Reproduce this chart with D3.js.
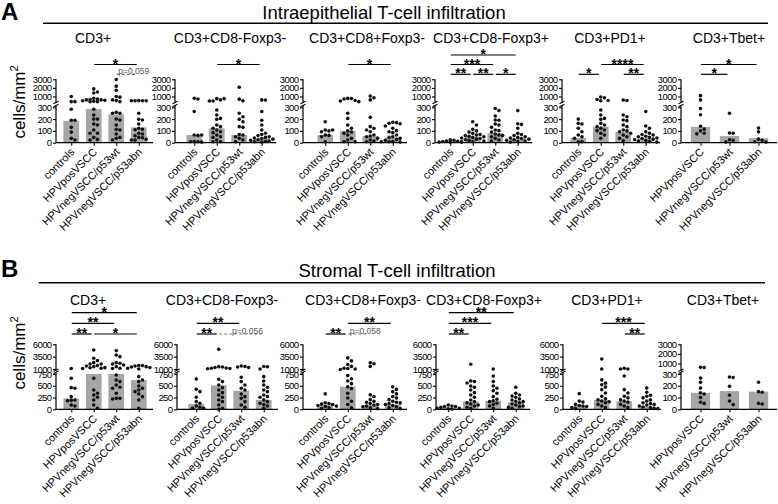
<!DOCTYPE html>
<html><head><meta charset="utf-8">
<script src="https://cdn.jsdelivr.net/npm/d3@7"></script>
<style>body{margin:0;background:#fff}svg text{font-family:"Liberation Sans",Arial,Helvetica,sans-serif}</style>
</head><body><svg id="c" width="778" height="504"></svg>
<script>
const groups4 = ["controls","HPVposVSCC","HPVnegVSCC/p53wt","HPVnegVSCC/p53abn"];
const groups3 = ["HPVposVSCC","HPVnegVSCC/p53wt","HPVnegVSCC/p53abn"];
const markers = ["CD3+","CD3+CD8-Foxp3-","CD3+CD8+Foxp3-","CD3+CD8-Foxp3+","CD3+PD1+","CD3+Tbet+"];
const panelTitles = ["Intraepithelial T-cell infiltration","Stromal T-cell infiltration"];
const panelLetters = ["A","B"];
const yLabel = "cells/mm";
const ticksSmallLow = [0,100,200,300], ticksSmallUp = [1000,2000,3000];
const ticksLargeLow = [0,250,500,750], ticksLargeUp = [1000,3500,6000];

const A_CD3 = [
 [1000,400,400,283,190,190,130,90,37,23],
 [1880,1520,1400,800,700,650,600,600,550,500,450,400,400,283,235,200,200,158,150,107,80,80,45,28,23],
 [2980,2200,1720,1000,920,600,520,400,257,249,249,200,192,150,113,107,74,45,37,23],
 [520,500,500,500,500,249,198,192,158,122,113,110,80,74,59,45,42,28,23,23]];
const A_CD3_median = [185,286,240,130];
const A_CD3_sig = [[1,3,"*",2],[2,3,"p=0.059",1,true]];

const A_CD8negFoxneg = [
 [800,700,264,65,65,62,10,8,8,5],
 [750,750,600,470,470,277,235,206,198,150,136,122,108,93,85,65,51,45,23,8,8],
 [2080,690,490,250,220,198,178,136,130,70,65,51,37,23,8],
 [600,580,264,190,150,108,80,70,60,50,45,40,35,30,25,20,15,10,8,5]];
const A_CD8negFoxneg_median = [65,122,65,35];
const A_CD8negFoxneg_sig = [[1,3,"*",2]];

const A_CD8posFoxneg = [
 [178,108,108,100,93,65,62,51,8],
 [780,760,700,530,470,400,250,206,150,122,100,90,80,65,37,23,8,8],
 [1060,840,600,215,136,122,108,93,65,57,50,37,23,15,8,8],
 [173,170,164,160,142,122,102,93,85,65,51,45,37,28,20,10,8,5]];
const A_CD8posFoxneg_median = [65,100,55,42];
const A_CD8posFoxneg_sig = [[1,3,"*",2]];

const A_CD8negFoxpos = [
 [25,20,15,12,10,8,5,5],
 [178,150,113,100,90,80,70,65,60,55,50,45,40,35,30,25,20,15,10,5],
 [290,272,226,192,190,158,150,130,108,102,90,74,65,60,51,37,23,14],
 [272,160,155,122,80,70,60,50,45,40,35,30,25,20,15,10,5]];
const A_CD8negFoxpos_median = [10,51,80,35];
const A_CD8negFoxpos_sig = [[0,1,"**",1],[1,2,"**",1],[2,3,"*",1],[0,2,"***",2],[0,3,"*",3]];

const A_PD1 = [
 [200,164,158,122,93,65,51,37,8,8],
 [935,840,656,530,500,277,235,206,198,164,150,136,122,108,102,80,65,37],
 [590,530,235,220,192,187,150,136,108,100,93,80,65,51,37,17],
 [264,142,122,93,80,70,65,55,50,45,40,35,30,25,20,15,10,5]];
const A_PD1_median = [40,136,90,35];
const A_PD1_sig = [[0,1,"*",1],[2,3,"**",1],[1,3,"****",2]];

const A_Tbet = [
 [1100,600,290,237,140,115,100,80,75],
 [249,82,80,25,20,5],
 [125,92,30,20,8,5]];
const A_Tbet_median = [134,56,38];
const A_Tbet_sig = [[0,1,"*",1],[0,2,"*",2]];

const B_CD3 = [
 [1100,658,460,446,269,198,190,184,92,71],
 [4850,3160,2690,2280,2010,2000,1680,1610,1470,1270,1250,1135,1100,658,410,340,304,255,198,92,21],
 [4720,3840,3500,2280,2150,2010,1810,1470,1135,1100,730,623,588,517,467,446,340,233,233,219],
 [1700,1680,1600,1470,1400,1300,1135,1000,694,623,588,495,446,410,375,325,269,198,21]];
const B_CD3_median = [230,750,750,620];
const B_CD3_sig = [[0,1,"**",1],[1,3,"*",1],[0,2,"**",2],[0,3,"*",3]];

const B_CD8negFoxneg = [
 [644,425,375,255,163,127,71,42,21,21],
 [4990,1470,1400,1300,1200,1150,1100,1050,637,588,517,460,410,354,304,255,198,163,92,21,0],
 [1610,1500,1400,1300,680,588,517,446,410,325,269,233,163,92,42],
 [1500,1450,1000,694,602,517,467,410,375,304,269,255,200,163,127,100,71,21]];
const B_CD8negFoxneg_median = [113,510,395,200];
const B_CD8negFoxneg_sig = [[0,1,"**",1],[1,3,"p=0.056",1,true],[0,2,"**",2]];

const B_CD8posFoxneg = [
 [327,140,123,110,102,82,68,60,34,14],
 [3240,2640,1900,1520,1150,1100,1000,900,716,648,600,545,477,443,341,239,170,102,34],
 [2270,2040,1520,307,273,205,170,150,123,102,90,68,55,30,14],
 [477,423,375,327,273,239,205,170,150,136,120,102,82,55,34,14]];
const B_CD8posFoxneg_median = [100,480,90,100];
const B_CD8posFoxneg_sig = [[0,1,"**",1],[1,2,"p=0.058",1,true],[1,3,"**",2]];

const B_CD8negFoxpos = [
 [90,71,57,57,40,21,21,10,5],
 [1950,601,588,560,495,467,410,354,304,255,198,163,140,113,90,71,42,21],
 [1000,708,588,495,446,396,340,269,212,180,163,127,100,71,21],
 [467,340,304,280,255,220,198,170,163,140,113,90,71,57,40,21]];
const B_CD8negFoxpos_median = [30,165,180,150];
const B_CD8negFoxpos_sig = [[0,1,"**",1],[0,2,"***",2],[0,3,"**",3]];

const B_PD1 = [
 [333,174,153,104,80,69,60,35,14],
 [3010,1000,625,556,521,472,417,347,278,222,200,174,160,139,104,69,35],
 [1150,1000,1000,708,417,347,278,243,200,174,153,104,69,35],
 [451,361,300,278,243,200,174,139,120,104,90,69,50,35,20,14]];
const B_PD1_median = [70,200,170,60];
const B_PD1_sig = [[2,3,"**",1],[1,3,"***",2]];

const B_Tbet = [
 [600,580,265,230,180,140,130,100,60,50],
 [275,270,195,120,70,40],
 [230,150,145,50,45]];
const B_Tbet_median = [140,155,150];
const B_Tbet_sig = [];

const scales = {
  small:{lowMax:300, upMax:3000, low:ticksSmallLow, up:ticksSmallUp},
  large:{lowMax:750, upMax:6000, low:ticksLargeLow, up:ticksLargeUp}
};
const rows = [
 {letterY:20, titleX:384, titleY:18.5, ruleY:23.3, rule:[43,768], subY:43, ylabY:102,
  lower:[142.7,107.3], upper:[102.5,79.3], sigY:[74.3,64.5,55],
  axes:[56,175,303,435,562,681], shift:[0,4,7,0,1,0], tx:[93,230,367,491,610,729],
  plots:[
   [A_CD3,A_CD3_median,A_CD3_sig,"small"],
   [A_CD8negFoxneg,A_CD8negFoxneg_median,A_CD8negFoxneg_sig,"small"],
   [A_CD8posFoxneg,A_CD8posFoxneg_median,A_CD8posFoxneg_sig,"small"],
   [A_CD8negFoxpos,A_CD8negFoxpos_median,A_CD8negFoxpos_sig,"small"],
   [A_PD1,A_PD1_median,A_PD1_sig,"small"],
   [A_Tbet,A_Tbet_median,A_Tbet_sig,"small"]]},
 {letterY:277, titleX:397, titleY:277, ruleY:282.7, rule:[39,765], subY:305, ylabY:353,
  lower:[409.3,374], upper:[370.2,344.3], sigY:[334,323.3,312.7],
  axes:[56,177,303,436,563,681], shift:[0,4,7,-3,1,0], tx:[88,222,363,484,607,723],
  plots:[
   [B_CD3,B_CD3_median,B_CD3_sig,"large"],
   [B_CD8negFoxneg,B_CD8negFoxneg_median,B_CD8negFoxneg_sig,"large"],
   [B_CD8posFoxneg,B_CD8posFoxneg_median,B_CD8posFoxneg_sig,"large"],
   [B_CD8negFoxpos,B_CD8negFoxpos_median,B_CD8negFoxpos_sig,"large"],
   [B_PD1,B_PD1_median,B_PD1_sig,"large"],
   [B_Tbet,B_Tbet_median,B_Tbet_sig,"small"]]}
];

const svg = d3.select("#c");

function swarm(vals, cx, yf){
  const pts = vals.map(v=>({v, y:yf(v)})).sort((a,b)=>a.y-b.y);
  const placed=[]; const d=3.7; const offs=[0,1,-1,2,-2,3,-3].map(k=>k*d);
  pts.forEach(p=>{
    let best=cx, bestScore=-1;
    for(const o of offs){
      const xx=cx+o; let mind=Infinity;
      for(const q of placed){const dd=Math.hypot(q.x-xx,q.y-p.y); if(dd<mind) mind=dd;}
      if(mind>=d){best=xx;break;}
      if(mind>bestScore){bestScore=mind;best=xx;}
    }
    p.x=best; placed.push(p);
  });
  return placed;
}

rows.forEach((row, r)=>{
  svg.append("text").attr("x",1).attr("y",row.letterY).attr("font-size",24).attr("font-weight","bold").text(panelLetters[r]);
  svg.append("text").attr("x",row.titleX).attr("y",row.titleY).attr("text-anchor","middle").attr("font-size",18.5).text(panelTitles[r]);
  svg.append("line").attr("x1",row.rule[0]).attr("x2",row.rule[1]).attr("y1",row.ruleY).attr("y2",row.ruleY).attr("stroke","#000").attr("stroke-width",1.5);
  const yl = svg.append("text").attr("transform",`translate(25,${row.ylabY}) rotate(-90)`).attr("text-anchor","middle").attr("font-size",17);
  yl.append("tspan").text(yLabel);
  yl.append("tspan").attr("font-size",11).attr("dy",-7).text("2");

  row.plots.forEach((p, i)=>{
    const [pts, med, sig, scKey] = p;
    const sc = scales[scKey];
    const cats = pts.length===4 ? groups4 : groups3;
    const n = cats.length, ax = row.axes[i], sh = row.shift[i];
    const x = d3.scalePoint().domain(cats).range(n===4?[ax+4+sh,ax+94+sh]:[ax+5+sh,ax+92+sh]).padding(0.5);
    const bw = n===4 ? 15.7 : 19.3;
    const yLow = d3.scaleLinear().domain([0,sc.lowMax]).range(row.lower);
    const yUp = d3.scaleLinear().domain([sc.lowMax,sc.upMax]).range(row.upper);
    const y = v => v<=sc.lowMax ? yLow(v) : yUp(v);
    const g = svg.append("g");
    const y0 = yLow(0);
    const xEnd = n===4 ? ax+97+sh : 777;

    g.selectAll("rect.bar").data(med).join("rect").attr("class","bar")
      .attr("x",(d,k)=>x(cats[k])-bw/2).attr("width",bw)
      .attr("y",d=>yLow(d)).attr("height",d=>y0-yLow(d)).attr("fill","#a6a6a6");

    const styleAxis = sel=>{sel.select(".domain").remove(); sel.selectAll("line").attr("stroke","#000").attr("stroke-width",1.1);
      sel.selectAll("text").attr("font-size",9.5).attr("letter-spacing",-0.6).attr("fill","#000").attr("font-family",null);};
    g.append("g").attr("transform",`translate(${ax},0)`)
      .call(d3.axisLeft(yLow).tickValues(sc.low).tickSize(3).tickPadding(1.5).tickFormat(d3.format("d"))).call(styleAxis);
    g.append("g").attr("transform",`translate(${ax},0)`)
      .call(d3.axisLeft(yUp).tickValues(sc.up).tickSize(3).tickPadding(1.5).tickFormat(d3.format("d"))).call(styleAxis);
    const lowTop = row.lower[1]-1.8, upBot = row.upper[0];
    g.append("line").attr("x1",ax).attr("x2",ax).attr("y1",y0).attr("y2",lowTop).attr("stroke","#000").attr("stroke-width",1.2);
    g.append("line").attr("x1",ax).attr("x2",ax).attr("y1",upBot).attr("y2",row.upper[1]).attr("stroke","#000").attr("stroke-width",1.2);
    [upBot, lowTop].forEach(yy=>g.append("line").attr("x1",ax-2.5).attr("x2",ax+2.5).attr("y1",yy+1.2).attr("y2",yy-1.2).attr("stroke","#000").attr("stroke-width",1.1));

    g.append("line").attr("x1",ax).attr("x2",xEnd).attr("y1",y0).attr("y2",y0).attr("stroke","#000").attr("stroke-width",1.2);
    g.append("g").attr("transform",`translate(0,${y0})`).call(d3.axisBottom(x).tickSize(3).tickFormat(""))
      .call(s=>{s.select(".domain").remove(); s.selectAll("line").attr("stroke","#000").attr("stroke-width",1.1);});
    cats.forEach(c=>{
      g.append("text").attr("transform",`translate(${x(c)+4},${y0+10}) rotate(-45)`)
        .attr("text-anchor","end").attr("font-size",11).text(c);
    });

    pts.forEach((vals,k)=>{
      const sw = swarm(vals, x(cats[k]), y);
      g.selectAll(null).data(sw).join("circle").attr("cx",d=>d.x).attr("cy",d=>d.y).attr("r",1.8).attr("fill","#111");
    });

    g.append("text").attr("x",row.tx[i]).attr("y",row.subY).attr("text-anchor","middle").attr("font-size",14).text(markers[i]);

    sig.forEach(s=>{
      const [a,b,lab,lev,dash] = s;
      const ly = row.sigY[lev-1];
      const x1 = x(cats[a])+0.5, x2 = x(cats[b])-2;
      const ln = g.append("line").attr("x1",x1).attr("x2",x2).attr("y1",ly).attr("y2",ly).attr("stroke-width",1.2);
      if(dash){
        ln.attr("stroke","#777").attr("stroke-dasharray","3,2");
        g.append("text").attr("x",(x1+x2)/2+7).attr("y",ly-0.5).attr("text-anchor","middle").attr("font-size",8.5).attr("fill","#555").text(lab);
      } else {
        ln.attr("stroke","#000");
        g.append("text").attr("x",(x1+x2)/2).attr("y",ly+4).attr("text-anchor","middle").attr("font-size",14).attr("font-weight","bold").text(lab);
      }
    });
  });
});
</script></body></html>
